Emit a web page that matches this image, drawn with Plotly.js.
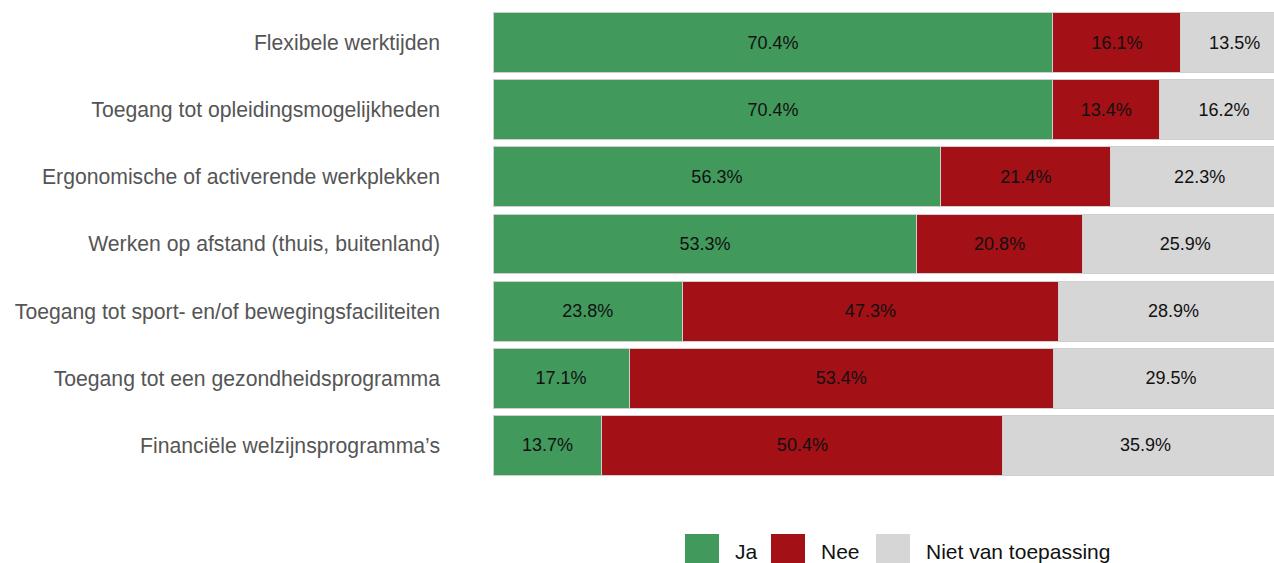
<!DOCTYPE html>
<html><head><meta charset="utf-8">
<script src="https://cdn.plot.ly/plotly-3.0.1.min.js"></script>
<style>html,body{margin:0;padding:0;overflow:hidden;background:#fff}</style>
</head><body><div id="chart" style="width:1274px;height:563px"></div>
<script>
const categories = [
  "Flexibele werktijden",
  "Toegang tot opleidingsmogelijkheden",
  "Ergonomische of activerende werkplekken",
  "Werken op afstand (thuis, buitenland)",
  "Toegang tot sport- en/of bewegingsfaciliteiten",
  "Toegang tot een gezondheidsprogramma",
  "Financiële welzijnsprogramma’s"
];
const ja = [70.4, 70.4, 56.3, 53.3, 23.8, 17.1, 13.7];
const nee = [16.1, 13.4, 21.4, 20.8, 47.3, 53.4, 50.4];
const nvt = [13.5, 16.2, 22.3, 25.9, 28.9, 29.5, 35.9];
const seriesNames = ["Ja", "Nee", "Niet van toepassing"];
const colors = ["#41995C", "#A31016", "#D6D6D6"];

const FONT = "Liberation Sans, Arial, sans-serif";
const vals = [ja, nee, nvt];
const traces = vals.map((v, i) => ({
  type: "bar",
  orientation: "h",
  name: seriesNames[i],
  y: categories,
  x: v,
  text: v.map(d => d.toFixed(1) + "%"),
  texttemplate: "%{text}",
  textposition: "inside",
  insidetextanchor: "middle",
  textangle: 0,
  constraintext: "none",
  textfont: {family: FONT, size: 18, color: "#111"},
  marker: {color: colors[i], line: {color: "#cfcfcf", width: 1}},
  hoverinfo: "none",
  showlegend: false
}));

// custom legend (large square keys) in paper coordinates of the plot area
const plotL = 493, plotW = 781, plotT = 9, plotH = 470;
const px2x = p => (p - plotL) / plotW;
const px2y = p => (plotT + plotH - p) / plotH;
const keyLeft = [685, 771, 876];
const shapes = [], annotations = [];
seriesNames.forEach((n, i) => {
  shapes.push({
    type: "rect", xref: "paper", yref: "paper",
    x0: px2x(keyLeft[i]), x1: px2x(keyLeft[i] + 34),
    y0: px2y(534), y1: px2y(568),
    fillcolor: colors[i], line: {width: 0}
  });
  annotations.push({
    xref: "paper", yref: "paper",
    x: px2x(keyLeft[i] + 48), xanchor: "left",
    y: px2y(551), yanchor: "middle",
    text: n, showarrow: false,
    font: {family: FONT, size: 21, color: "#111"}
  });
});

const layout = {
  width: 1274, height: 563,
  barmode: "stack",
  bargap: 0.11,
  margin: {l: plotL, r: 0, t: plotT, b: 563 - plotT - plotH},
  paper_bgcolor: "#fff",
  plot_bgcolor: "#fff",
  font: {family: FONT, color: "#555"},
  xaxis: {range: [0, 98.2], visible: false, fixedrange: true},
  yaxis: {
    autorange: "reversed",
    showgrid: false, zeroline: false, showline: false, ticks: "",
    ticklabelstandoff: 52,
    tickfont: {size: 21.2, color: "#555"}
  },
  showlegend: false,
  shapes: shapes,
  annotations: annotations
};

Plotly.newPlot("chart", traces, layout, {displayModeBar: false, staticPlot: true});
</script></body></html>
